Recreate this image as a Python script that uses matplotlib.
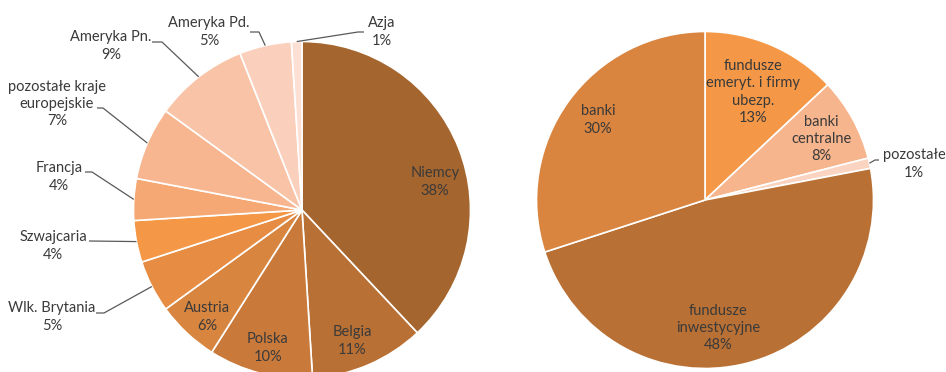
import matplotlib
matplotlib.use('Agg')
import matplotlib.pyplot as plt
import numpy as np

# struktura geograficzna
geo_labels = ['Niemcy', 'Belgia', 'Polska', 'Austria', 'Wlk. Brytania', 'Szwajcaria',
              'Francja', 'pozostałe kraje\neuropejskie', 'Ameryka Pn.', 'Ameryka Pd.', 'Azja']
geo_values = [38, 11, 10, 6, 5, 4, 4, 7, 9, 5, 1]
geo_colors = ['#A5652E', '#B97034', '#C97A3A', '#D7853F', '#E68C43', '#F49847',
              '#F5A873', '#F7B690', '#F8C3A7', '#FAD0BC', '#FCE0D3']

# struktura inwestorów
inv_labels = ['fundusze\nemeryt. i firmy\nubezp.', 'banki\ncentralne', 'pozostałe',
              'fundusze\ninwestycyjne', 'banki']
inv_values = [13, 8, 1, 48, 30]
inv_colors = ['#F49847', '#F7B58E', '#FAD3C1', '#B97034', '#DA853F']

W, H = 946, 372
R = 168.5
TXT = '#3A3A3A'
plt.rcParams['font.family'] = ['Lato', 'DejaVu Sans']

fig = plt.figure(figsize=(W / 100, H / 100), dpi=100)

def pie_axes(cx, cy):
    return fig.add_axes([(cx - R) / W, (H - cy - R) / H, 2 * R / W, 2 * R / H])

def draw(ax, values, colors):
    wedges, _ = ax.pie(values, colors=colors, startangle=90, counterclock=False,
                       wedgeprops=dict(edgecolor='white', linewidth=1.2))
    ax.set_xlim(-1, 1)
    ax.set_ylim(-1, 1)
    ax.set_aspect('equal')
    return wedges

def to_data(cx, cy, px, py):
    return (px - cx) / R, (cy - py) / R

def label(ax, cx, cy, text, value, pos, leader=None, wedge=None):
    x, y = to_data(cx, cy, *pos)
    ax.text(x, y, f'{text}\n{value}%', ha='center', va='center', fontsize=10.5,
            color=TXT, linespacing=1.3, clip_on=False)
    if leader is not None:
        ang = np.deg2rad((wedge.theta1 + wedge.theta2) / 2)
        pts = [to_data(cx, cy, *p) for p in leader]
        xs = [p[0] for p in pts] + [np.cos(ang)]
        ys = [p[1] for p in pts] + [np.sin(ang)]
        ax.plot(xs, ys, color='#595959', lw=0.9, clip_on=False, solid_capstyle='butt')

# lewy wykres
lcx, lcy = 302, 210
ax1 = pie_axes(lcx, lcy)
w1 = draw(ax1, geo_values, geo_colors)
geo_pos = [(435, 182), (352, 341), (268, 348), (207, 317), (52, 317), (53, 246),
           (59, 177), (57, 104), (111, 46), (209, 32), (382, 32)]
geo_leaders = [None, None, None, None, [(96, 313), (104, 313)], [(89, 241)],
               [(85, 172), (92, 172)], [(97, 108), (103, 108)], [(152, 42), (162, 42)],
               [(250, 32), (259, 32)], [(364, 32), (358, 32)]]
for t, v, p, ld, wd in zip(geo_labels, geo_values, geo_pos, geo_leaders, w1):
    label(ax1, lcx, lcy, t, v, p, ld, wd)

# prawy wykres
rcx, rcy = 705, 200
ax2 = pie_axes(rcx, rcy)
w2 = draw(ax2, inv_values, inv_colors)
inv_pos = [(753, 92), (821, 139), (914, 164), (718, 328), (598, 120)]
inv_leaders = [None, None, [(879, 160), (875, 160)], None, None]
for t, v, p, ld, wd in zip(inv_labels, inv_values, inv_pos, inv_leaders, w2):
    label(ax2, rcx, rcy, t, v, p, ld, wd)

fig.savefig('out.png', dpi=100, facecolor='white')
